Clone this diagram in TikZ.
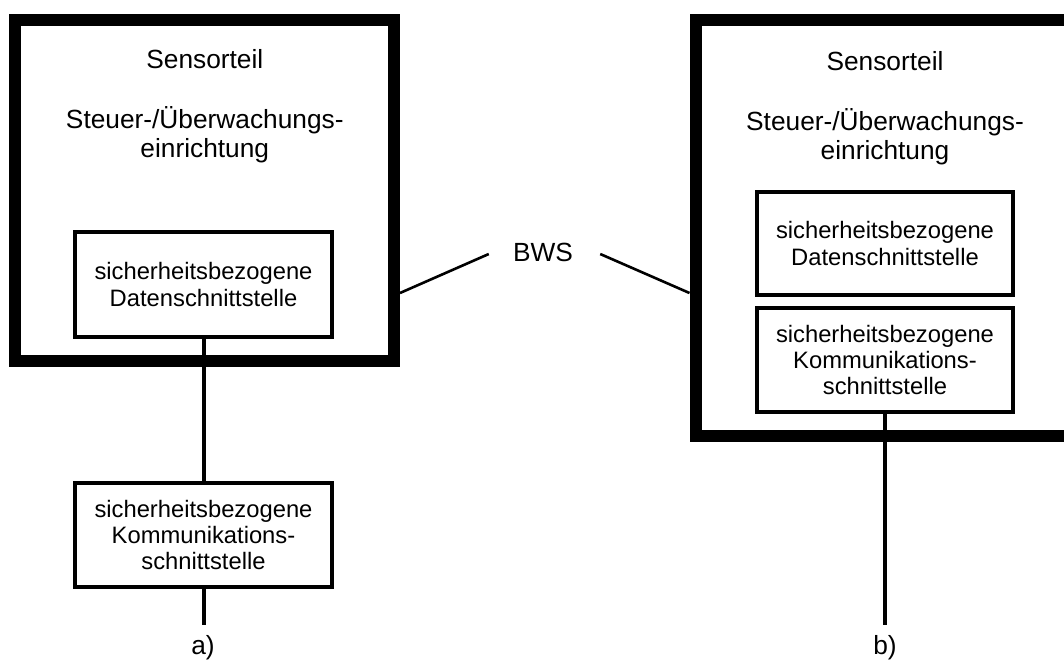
\documentclass[tikz,border=0pt]{standalone}
\usepackage{fontspec}
\setmainfont{Liberation Sans}

\tikzset{
    bigbox/.style = {draw, rectangle, line width = 0.3cm, inner sep = 0pt},
    ifbox/.style = {draw, rectangle, line width = 0.1cm, inner sep = 0pt, align = center,
        minimum width = 6.42cm, font = \fontsize{16.9}{18.6}\selectfont},
    headtxt/.style = {align = center, font = \fontsize{18.7}{20.6}\selectfont},
    wire/.style = {line width = 0.1cm},
    bwsline/.style = {line width = 0.065cm},
}

\begin{document}
\begin{tikzpicture}
    \clip (0, 0) rectangle (26.6, -16.65);

    % a) Kommunikationsschnittstelle ausserhalb
    \node[bigbox, minimum width = 9.475cm, minimum height = 8.525cm] (sensL) at (5.1125, -4.7625) {};
    \node[headtxt, anchor = base] (nameL) at (5.12, -1.7) {Sensorteil};
    \node[headtxt, anchor = base] (steuL) at (5.12, -3.925) {Steuer-/Überwachungs-\\einrichtung};
    \node[ifbox, minimum height = 2.625cm] (datL) at (5.0875, -7.1125) {sicherheitsbezogene\\Datenschnittstelle};
    \node[ifbox, minimum height = 2.6cm] (komL) at (5.0875, -13.375) {sicherheitsbezogene\\Kommunikations-\\schnittstelle};
    \coordinate (endL) at (5.0875, -15.625);
    \node[headtxt] (labA) at (5.075, -16.2) {a)};

    % b) Kommunikationsschnittstelle im Sensorteil
    \node[bigbox, minimum width = 9.475cm, minimum height = 10.4cm] (sensR) at (22.125, -5.7) {};
    \node[headtxt, anchor = base] (nameR) at (22.125, -1.75) {Sensorteil};
    \node[headtxt, anchor = base] (steuR) at (22.125, -3.975) {Steuer-/Überwachungs-\\einrichtung};
    \node[ifbox, minimum height = 2.575cm] (datR) at (22.125, -6.0875) {sicherheitsbezogene\\Datenschnittstelle};
    \node[ifbox, minimum height = 2.6cm] (komR) at (22.125, -9.0) {sicherheitsbezogene\\Kommunikations-\\schnittstelle};
    \coordinate (endR) at (22.125, -15.625);
    \node[headtxt] (labB) at (22.125, -16.2) {b)};

    \node[headtxt, inner sep = 0pt] (bws) at (13.575, -6.3) {BWS};

    \draw[wire]
        (datL) -- (komL)
        (komL) -- (endL)
        (komR) -- (endR)
    ;
    \draw[bwsline]
        ([xshift = -0.6cm, yshift = -0.05cm]bws.west) -- (sensL.east |- 0, -7.325)
        ([xshift = 0.675cm, yshift = -0.05cm]bws.east) -- (sensR.west |- 0, -7.325)
    ;
\end{tikzpicture}
\end{document}
